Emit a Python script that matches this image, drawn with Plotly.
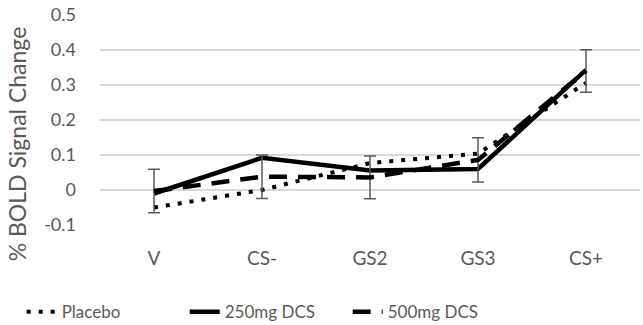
import plotly.graph_objects as go

categories = ["V", "CS-", "GS2", "GS3", "CS+"]
placebo = [-0.05, 0.0, 0.077, 0.104, 0.306]
dcs250 = [-0.01, 0.092, 0.056, 0.06, 0.343]
dcs500 = [-0.003, 0.038, 0.036, 0.086, 0.34]
err500 = [0.062, 0.062, 0.061, 0.063, 0.061]
yticks = [-0.1, 0, 0.1, 0.2, 0.3, 0.4, 0.5]
ytick_text = ["-0.1", "0", "0.1", "0.2", "0.3", "0.4", "0.5"]
y_title = "% BOLD Signal Change"

grey = "#595959"
font = "Lato, Carlito, Calibri, sans-serif"

fig = go.Figure()
fig.add_trace(go.Scatter(x=categories, y=placebo, mode="lines", name="Placebo",
                         line=dict(color="black", width=4, dash="4px,8px")))
fig.add_trace(go.Scatter(x=categories, y=dcs250, mode="lines", name="250mg DCS",
                         line=dict(color="black", width=4.5)))
fig.add_trace(go.Scatter(x=categories, y=dcs500, mode="lines", name="500mg DCS",
                         line=dict(color="black", width=4.5, dash="18px,11px"),
                         error_y=dict(type="data", array=err500, visible=True,
                                      color=grey, thickness=1.5, width=6)))

fig.add_annotation(text=y_title, xref="paper", yref="paper",
                   x=-0.153, y=0.386, xanchor="center", yanchor="middle",
                   textangle=-90, showarrow=False,
                   font=dict(size=23, color=grey, family=font))

fig.update_layout(
    width=643, height=325,
    margin=dict(l=100, r=3, t=15, b=100, autoexpand=False),
    plot_bgcolor="white", paper_bgcolor="white",
    font=dict(family=font, size=17, color=grey),
    showlegend=True,
    legend=dict(orientation="h", x=-0.145, xanchor="left", y=-0.415, yanchor="middle",
                font=dict(size=17, color=grey), tracegroupgap=0,
                entrywidth=118, entrywidthmode="pixels"),
    xaxis=dict(range=[-0.5, 4.5], showgrid=False, showline=False, ticks="",
               ticklabelstandoff=20, tickfont=dict(size=19, color=grey)),
    yaxis=dict(range=[-0.1, 0.5], tickvals=yticks, ticktext=ytick_text,
               showgrid=True, gridcolor="#d9d9d9", gridwidth=1.5,
               zeroline=False, showline=False, ticks="", ticklabelstandoff=23,
               tickfont=dict(size=18, color=grey)),
)

fig.write_html("out.html")
